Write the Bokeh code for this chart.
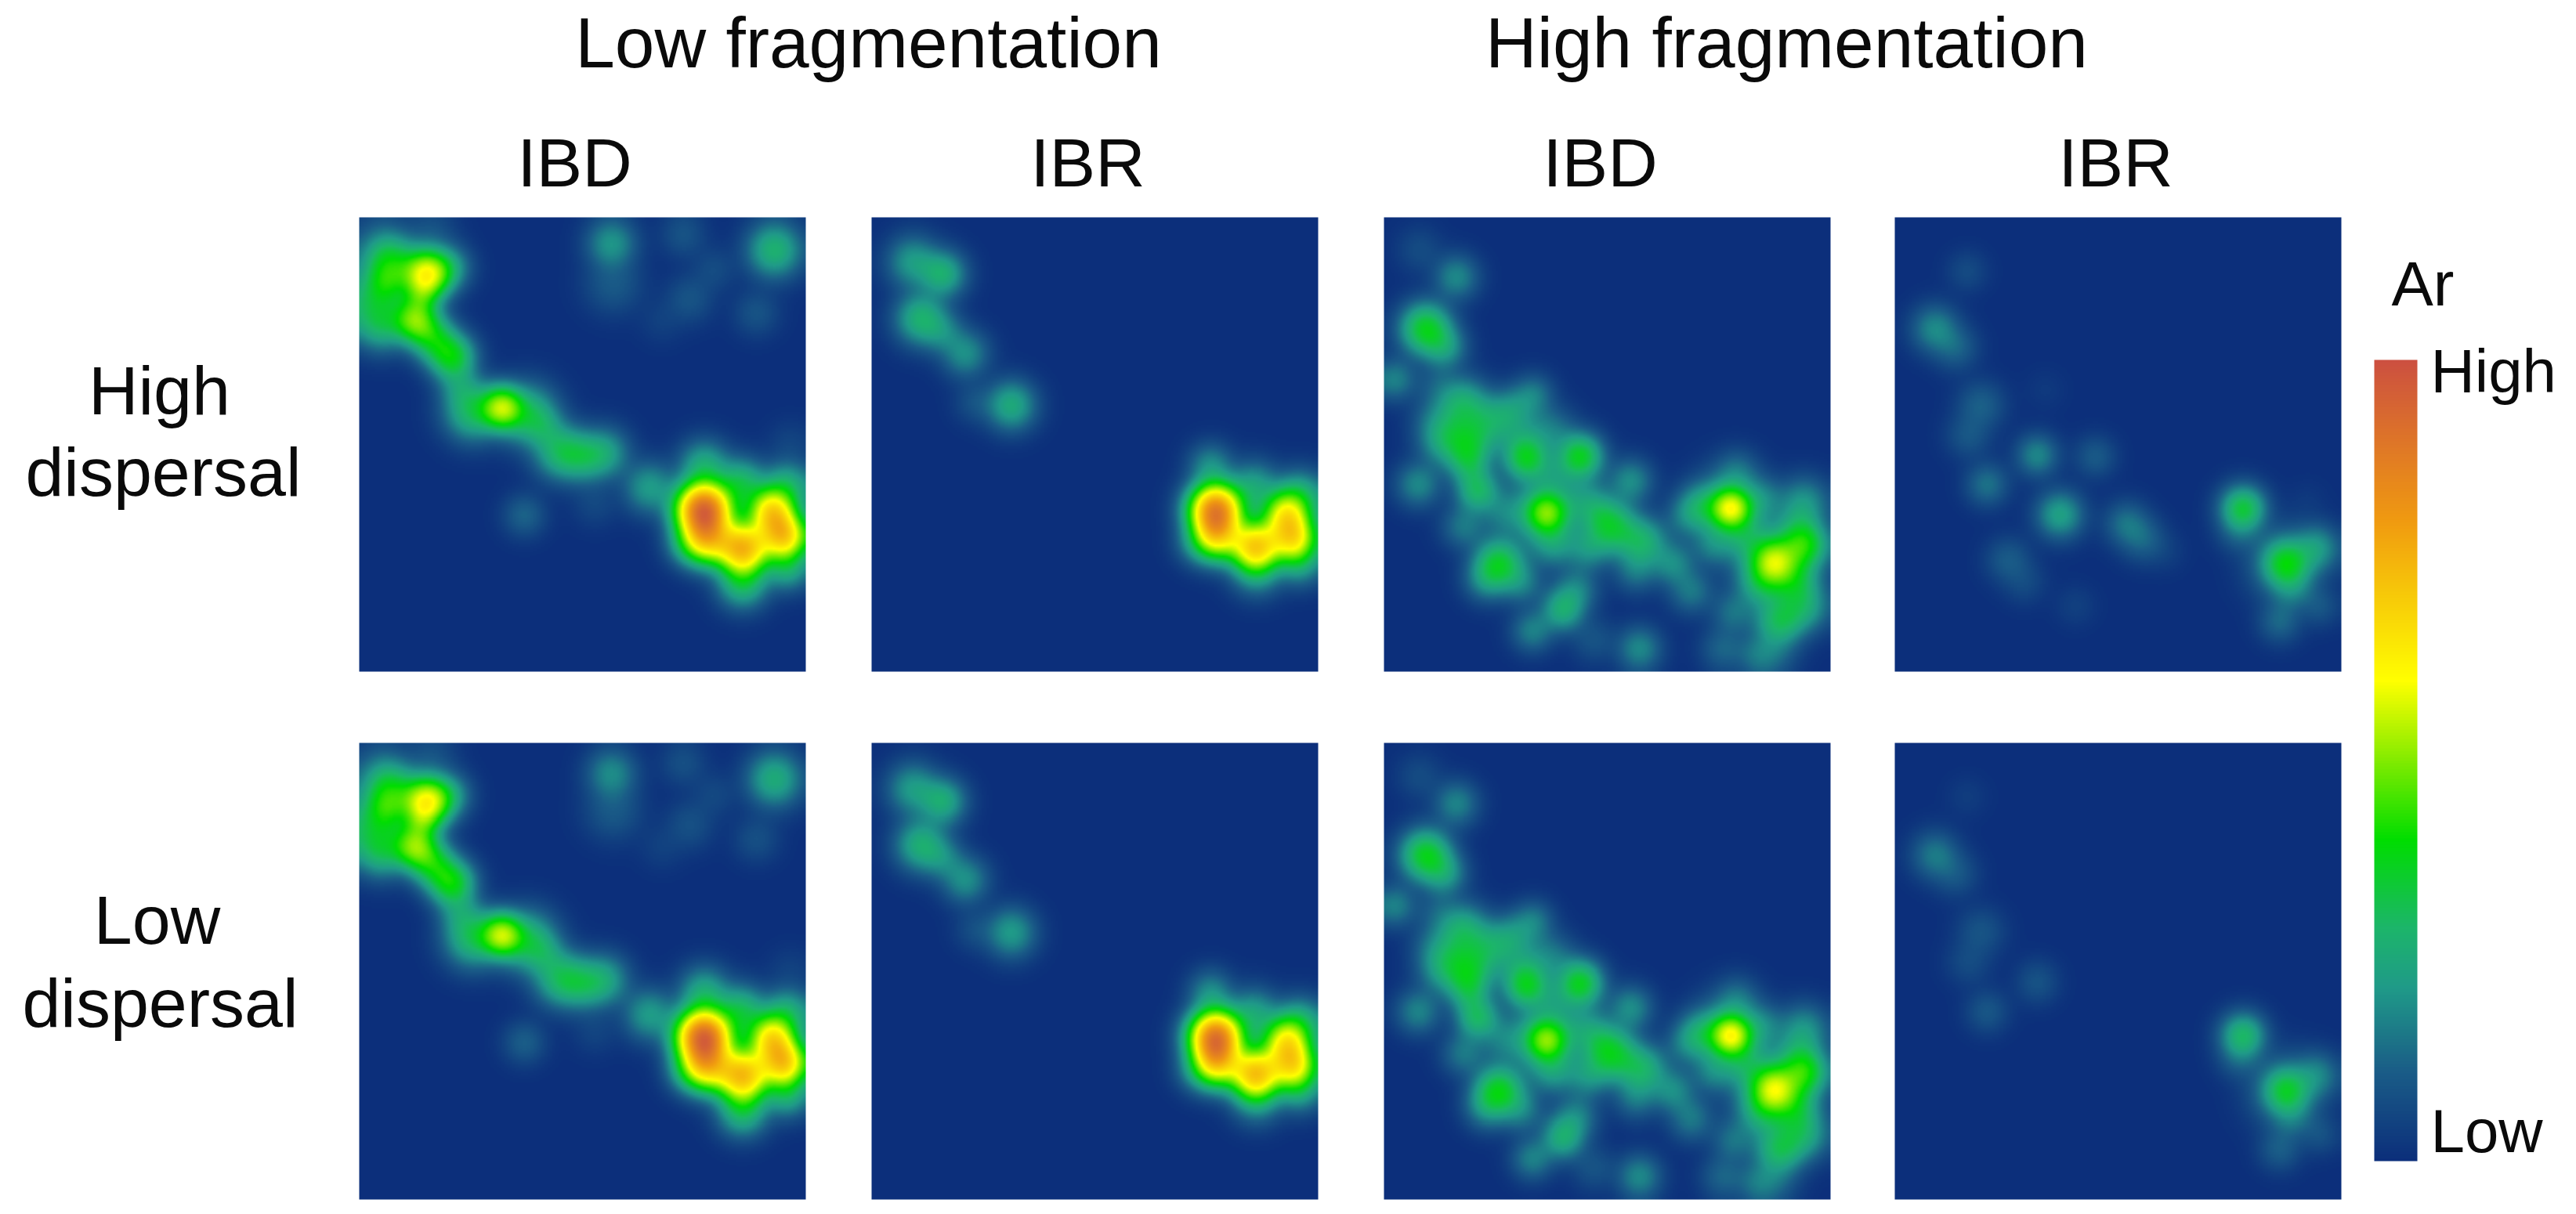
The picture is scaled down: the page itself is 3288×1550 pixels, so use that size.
import numpy as np
from bokeh.embed import file_html
from bokeh.resources import INLINE
from bokeh.plotting import figure
from bokeh.models import LinearColorMapper, ColorBar, FixedTicker
from bokeh.core.properties import value

# Hotspots: (x % of panel, y % of panel from top, level 0-1, spread %)
low_frag_ibd_high_disp = [
 (15.2,12.5,.66,3.4),(7,10.5,.4,4),(12.5,22.6,.54,3.2),(3,19,.3,4.5),(5,24,.27,3.5),(6,15,.3,3),(5,6,.14,4),(16,4,.1,3.5),(14,17,.36,2.5),
 (20.7,30.7,.42,3.2),(16.6,26.6,.38,3.2),(20,11,.25,3),(22.7,37.4,.22,3),(32,42,.6,3),(25.5,42.7,.32,4),
 (37.7,43.4,.3,4.2),(41,46,.22,3),(45.2,51.5,.31,3.8),(54.8,52,.26,3.5),(50,52.8,.27,3.5),(65,59.5,.24,3.5),
 (37,65.6,.14,2.8),(52.8,62.9,.07,3),(56.5,5.8,.23,3.4),(72.6,3.8,.1,3),(93,7.2,.3,3.8),(79.4,11.5,.08,3),
 (74,18,.1,3.2),(89,21,.1,3),(56.9,14.6,.11,4),(67.8,22.6,.05,3),(96.5,50,.06,3),
 (77.2,64.5,1.0,4),(78,71,.68,3.5),(85.9,72.9,.8,3.8),(92.4,64.8,.72,3.4),(95.1,70.2,.75,3.4),(77.3,54.8,.28,3.5),
 (85.5,58.8,.33,3.5),(95.8,59.5,.3,3.5),(85.9,80.3,.33,3.5),(95.8,77,.3,3),(74,71.6,.3,3)]
low_frag_ibr_high_disp = [
 (9.4,9.9,.24,3.6),(15.9,12.5,.3,3.2),(11.1,22.3,.3,3.6),(15.9,25.3,.2,3),(21,30,.22,3.2),(31.3,41.4,.28,3.4),
 (23.4,40.7,.1,2.8),(77.1,64.5,.92,3.8),(77.4,70.2,.65,3.4),(86,72.5,.75,3.6),(92.8,65.5,.65,3.4),(94.5,70.8,.68,3.4),
 (76,54.8,.22,3),(85.6,59.5,.26,3.5),(95.9,61.5,.3,3.5),(86.3,77.5,.25,3.5),(95.9,76.2,.25,3),(73.3,71.5,.22,3)]
high_frag_ibd_high_disp = [
 (8,7.2,.08,3),(16.2,13.2,.21,3),(9.4,24.6,.4,3.6),(13.5,28.6,.25,3),(2.5,35.7,.2,2.8),(17.6,41.4,.3,3.8),
 (14.2,48.7,.3,3.8),(19.6,49.4,.3,3.5),(23.7,44.7,.25,3.5),(33.3,39.3,.2,2.8),(28.5,42,.2,3),(7.7,58.8,.21,3),
 (21,60.1,.33,3),(18.9,54,.3,3),(31.9,53,.4,3.2),(43.9,52.7,.41,3.2),(37.4,47.4,.18,3.5),(38,56.8,.18,3),
 (36.4,65.1,.48,2.8),(36.4,65.1,.3,5),(55.2,58.1,.22,3),(51,68.2,.36,3.8),(57.9,71.5,.3,3.5),(45.6,72.9,.22,3.2),(64.7,76.2,.22,3),
 (68.8,82.2,.18,3),(56.5,77.5,.18,3),(25.8,76.2,.38,3.5),(23,79.6,.22,3),(30.6,80.2,.2,3),(40.1,86.3,.3,3),
 (33.3,91,.2,2.8),(57.2,95,.21,3),(47,93,.1,3),(77.7,64.1,.62,2.8),(77.7,64.1,.3,5),(70.9,63.5,.25,3.2),(79,56.1,.16,3),
 (87.3,75.9,.54,3.2),(87.3,75.9,.3,5.5),(94.1,72.2,.42,3.3),(88.6,88.9,.33,3.5),(94,85.6,.27,3.5),(78.4,87,.17,3),(94,62.8,.22,3.5),
 (83.9,96.3,.18,3),(84.5,80.9,.25,3.2),(81,70.8,.22,3),(92,80,.3,3.5),
 (27,65,.18,3.5),(45,62,.2,3.5),(30,47,.2,4),(38,72,.22,3.2),(48,65,.2,3),(68,66,.18,3),(74,72,.2,3),
 (43,82,.2,3),(18,68,.18,3),(11,44,.13,3),(85,62,.18,3),(93,68,.22,3.5),(76,95,.14,3),(88,96,.13,3),(12,37,.12,3)]
high_frag_ibr_high_disp = [
 (16.2,11.9,.08,2.6),(9.1,24.6,.21,3.2),(13.5,28.6,.14,3),(19.3,41.4,.13,3.2),(16.6,48,.11,3),(33.7,38,.03,2.6),
 (31.9,52.4,.21,2.8),(44.9,52.7,.12,2.7),(20.7,58.8,.17,2.8),(37,65.5,.26,3.2),(52,67.5,.17,3),(55.5,70.8,.14,3),
 (60.3,73.5,.05,2.6),(25.5,75.5,.12,3),(28.9,80.2,.08,2.8),(40.5,85.5,.05,2.6),(78,64.1,.38,3.1),(77.3,68.8,.14,3),
 (87.6,76.2,.38,3.2),(87.6,76.2,.2,5),(94.4,72.9,.24,3.2),(89,81.6,.18,3),(86.2,88.9,.15,2.8),(95.1,85.6,.11,2.6),(92.4,62.8,.03,2.6)]
low_frag_ibd_low_disp = [
 (15.2,12.9,.66,3.4),(7,11,.4,4),(12.5,22.6,.55,3.2),(3,19,.31,4.5),(5,24,.28,3.5),(6,15,.3,3),(5,6.5,.15,4),(16,4,.1,3.5),(14,17,.36,2.5),
 (20.7,30.7,.43,3.2),(16.6,26.6,.39,3.2),(20,11.5,.25,3),(22.7,37.4,.22,3),(32,42.2,.6,3),(25.5,42.7,.32,4),
 (37.7,43.4,.3,4.2),(41,46,.22,3),(45.2,51.5,.31,3.8),(54.8,52,.26,3.5),(50,52.8,.27,3.5),(65,59.5,.24,3.5),
 (37,65.6,.13,2.8),(52.8,62.9,.06,3),(56.5,6.8,.21,3.4),(72.6,4.5,.09,3),(93,8,.28,3.8),(79.4,11.5,.07,3),
 (74,18,.09,3.2),(89,21,.09,3),(56.9,14.6,.11,4),(67.8,22.6,.05,3),(96.5,50,.05,3),
 (77.2,64.5,1.0,4),(78,71,.68,3.5),(85.9,72.9,.78,3.8),(92.4,64.8,.7,3.4),(95.1,70.2,.75,3.4),(77.3,54.8,.28,3.5),
 (85.5,58.8,.33,3.5),(95.8,59.5,.3,3.5),(85.9,80.3,.33,3.5),(95.8,77,.3,3),(74,71.6,.3,3)]
low_frag_ibr_low_disp = [
 (9.4,10.2,.24,3.6),(15.9,12.9,.29,3.2),(11.1,22.3,.29,3.6),(15.9,25.3,.2,3),(21,30,.22,3.2),(31.3,41.6,.24,3.4),
 (23.4,40.9,.09,2.8),(77.1,64.5,.95,3.8),(77.4,70.2,.67,3.4),(86,72.5,.77,3.6),(92.8,65.5,.65,3.4),(94.5,70.8,.68,3.4),
 (76,54.8,.22,3),(85.6,59.5,.26,3.5),(95.9,61.5,.3,3.5),(86.3,77.5,.25,3.5),(95.9,76.2,.25,3),(73.3,71.5,.22,3)]
high_frag_ibd_low_disp = [
 (8,7.5,.08,3),(16.2,13.4,.2,3),(9.4,24.6,.4,3.6),(13.5,28.6,.25,3),(2.5,35.7,.2,2.8),(17.6,41.4,.3,3.8),
 (14.2,48.7,.3,3.8),(19.6,49.4,.31,3.5),(23.7,44.7,.25,3.5),(33.3,39.3,.2,2.8),(28.5,42,.2,3),(7.7,58.8,.2,3),
 (21,60.1,.33,3),(18.9,54,.3,3),(31.9,53,.4,3.2),(43.9,52.7,.41,3.2),(37.4,47.4,.18,3.5),(38,56.8,.18,3),
 (36.4,65.1,.49,2.8),(36.4,65.1,.3,5),(55.2,58.1,.22,3),(51,68.2,.38,3.8),(57.9,71.5,.3,3.5),(45.6,72.9,.22,3.2),(64.7,76.2,.22,3),
 (68.8,82.2,.18,3),(56.5,77.5,.18,3),(25.8,76.2,.4,3.5),(23,79.6,.22,3),(30.6,80.2,.2,3),(40.1,86.3,.3,3),
 (33.3,91,.2,2.8),(57.2,95,.21,3),(47,93,.1,3),(77.7,64.1,.63,2.8),(77.7,64.1,.3,5),(70.9,63.5,.25,3.2),(79,56.1,.16,3),
 (87.3,75.9,.56,3.2),(87.3,75.9,.3,5.5),(94.1,72.2,.42,3.3),(88.6,88.9,.33,3.5),(94,85.6,.27,3.5),(78.4,87,.17,3),(94,62.8,.22,3.5),
 (83.9,96.3,.18,3),(84.5,80.9,.25,3.2),(81,70.8,.22,3),(92,80,.3,3.5),
 (27,65,.18,3.5),(45,62,.2,3.5),(30,47,.2,4),(38,72,.22,3.2),(48,65,.2,3),(68,66,.18,3),(74,72,.2,3),
 (43,82,.2,3),(18,68,.18,3),(11,44,.13,3),(85,62,.18,3),(93,68,.22,3.5),(76,95,.14,3),(88,96,.13,3),(12,37,.12,3)]
high_frag_ibr_low_disp = [
 (16.2,11.9,.04,2.6),(9.1,24.6,.18,3.2),(13.5,28.6,.11,3),(19.3,41.4,.1,3.2),(16.6,48,.08,3),
 (31.9,52.4,.1,2.8),(20.7,58.8,.11,2.8),(78,64.1,.33,3.1),(77.3,68.8,.13,3),
 (87.6,76.2,.35,3.2),(87.6,76.2,.18,5),(94.4,72.9,.2,3.2),(89,81.6,.16,3),(86.2,88.9,.13,2.8),(95.1,85.6,.1,2.6)]

top_row = [low_frag_ibd_high_disp, low_frag_ibr_high_disp, high_frag_ibd_high_disp, high_frag_ibr_high_disp]
bottom_row = [low_frag_ibd_low_disp, low_frag_ibr_low_disp, high_frag_ibd_low_disp, high_frag_ibr_low_disp]

ramp_levels = [0, .11, .215, .29, .40, .50, .60, .80, 1]
ramp_colors = [(12,47,123), (26,92,135), (31,154,136), (28,181,106), (0,221,0), (130,235,0), (255,255,0), (240,154,16), (204,80,64)]

group_labels = ["Low fragmentation", "High fragmentation"]
column_labels = ["IBD", "IBR", "IBD", "IBR"]
row_labels = ["High", "dispersal", "Low", "dispersal"]
scale_title = "Ar"
scale_labels = ["High", "Low"]

# ---- layout, in page pixels ----
W, H = 3288, 1550
panel_lefts = [458, 1112, 1766, 2418]
panel_w = 570
row_tops = [277, 948]
panel_hs = [580, 583]
FONT = value("Liberation Sans")
KERNEL_WIDTH = 1.2   # spread multiplier of the rendering kernel
SOFTEN = 1.5         # softness of the picture, % of panel

def soften(f, sample_pct):
    r = int(4 * SOFTEN / sample_pct)
    k = np.exp(-0.5 * (np.arange(-r, r + 1) * sample_pct / SOFTEN) ** 2)
    k /= k.sum()
    for axis in (0, 1):
        f = np.apply_along_axis(lambda v: np.convolve(np.pad(v, r, mode="edge"), k, "valid"), axis, f)
    return f

def field(spots, nx=285, ny=290):
    xs = (np.arange(nx) + .5) / nx * 100
    ys = 100 - (np.arange(ny) + .5) / ny * 100
    X, Y = np.meshgrid(xs, ys)
    f = np.zeros_like(X)
    for sx, sy, lev, sp in spots:
        s = sp * KERNEL_WIDTH
        g = lev * np.exp(-(((X - sx) ** 2 + (Y - sy) ** 2) / (2 * s ** 2)) ** 1.1)
        f += g ** 2
    return np.clip(soften(np.sqrt(f), 100 / nx), 0, 1).astype(np.float32)

t = np.linspace(0, 1, 256)
ramp = np.array(ramp_colors, dtype=float)
palette = ["#%02x%02x%02x" % tuple(int(round(np.interp(v, ramp_levels, ramp[:, c]))) for c in range(3)) for v in t]
mapper = LinearColorMapper(palette=palette, low=0, high=1)

p = figure(width=W - 16, height=H - 16, x_range=(0, W - 16), y_range=(16, H),
           toolbar_location=None, output_backend="svg", min_border=0,
           x_axis_location=None, y_axis_location=None, background_fill_color="white")
p.grid.visible = False
p.outline_line_color = None

for rows, top, ph in zip([top_row, bottom_row], row_tops, panel_hs):
    for spots, left in zip(rows, panel_lefts):
        p.image(image=[field(spots)], x=left, y=H - top - ph, dw=panel_w, dh=ph, color_mapper=mapper)

def label(xs, ys, texts, size, align="center"):
    p.text(x=xs, y=[H - v + 0.32 * size for v in ys], text=texts, text_font=FONT, text_font_size=f"{size}px",
           text_color="#0a0a0a", text_align=align, text_baseline="alphabetic")

label([1108, 2280], [83, 83], group_labels, 91)
label([733, 1388, 2042, 2700], [235] * 4, column_labels, 88)
label([203, 208, 200, 204], [526, 630, 1202, 1308], row_labels, 88)
label([3092], [388], [scale_title], 80)
label([3102, 3102], [498, 1468], scale_labels, 78, "left")

bar = ColorBar(color_mapper=mapper, ticker=FixedTicker(ticks=[]), width=55, height=1023,
               location=(3030, H - 16 - 1482), padding=0, margin=0,
               background_fill_alpha=0, bar_line_color=None, major_tick_line_color=None,
               minor_tick_line_color=None, major_label_text_font_size="0px", border_line_color=None)
p.add_layout(bar, "center")

open("out.html", "w").write(file_html(p, INLINE))
